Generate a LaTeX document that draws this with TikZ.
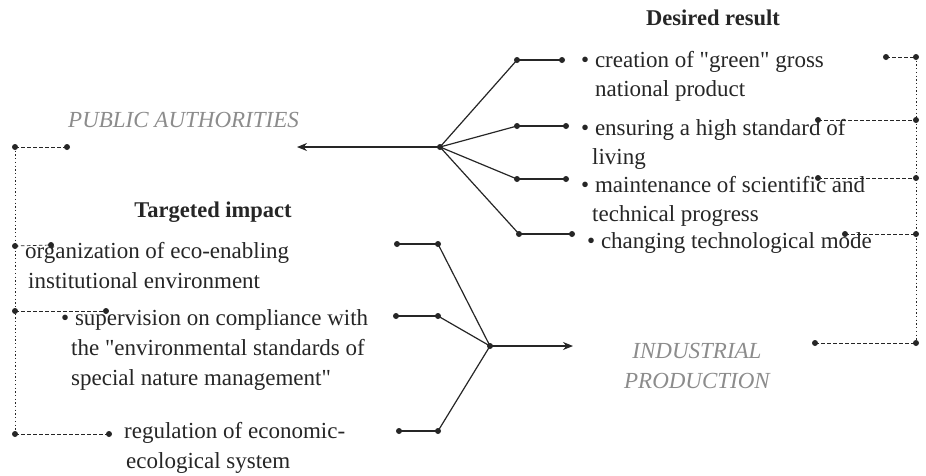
\documentclass[tikz,border=0pt]{standalone}
\usepackage{fontspec}
\setmainfont{Liberation Serif}[Ligatures=TeXOff]
\usetikzlibrary{arrows.meta}
\definecolor{ink}{HTML}{262626}
\definecolor{soft}{HTML}{8C8C8C}
\begin{document}
\begin{tikzpicture}[x=1pt,y=-1pt,
  dotn/.style={circle,fill=ink,inner sep=0pt,minimum size=6pt},
  link/.style={draw=ink,line width=1.2pt},
  stub/.style={draw=ink,line width=1.8pt},
  dashlink/.style={draw=ink,line width=0.7pt,dash pattern=on 3.5pt off 2.5pt},
  dotlink/.style={draw=ink,line width=1pt,dash pattern=on 1.3pt off 2.4pt},
  body/.style={font=\fontsize{23}{29}\selectfont,text=ink,align=left,inner sep=0pt,anchor=base west},
  lbody/.style={body,font=\fontsize{23}{30}\selectfont},
  head/.style={font=\fontsize{22.5}{27}\selectfont\bfseries,text=ink,inner sep=0pt,anchor=base},
  actor/.style={font=\fontsize{23}{30}\selectfont\itshape,text=soft,align=center,inner sep=0pt,anchor=base},
  tip/.style={-{Stealth[length=10pt,width=8pt]}}
]
\fill[white] (0,0) rectangle (926,475);
\useasboundingbox (0,0) rectangle (926,475);

% headings and actors
\node[head] (dr) at (713,25) {Desired result};
\node[head] (ti) at (213,217) {Targeted impact};
\node[actor,anchor=base west] (pa) at (68,127) {PUBLIC AUTHORITIES};
\node[actor] (ip) at (697,388) {INDUSTRIAL\\PRODUCTION};

% right fan
\node[dotn] (rh) at (440,147) {};
\node[dotn] (ra1) at (517,60) {};  \node[dotn] (rb1) at (562,60) {};
\node[dotn] (ra2) at (517,126) {}; \node[dotn] (rb2) at (566,126) {};
\node[dotn] (ra3) at (517,179) {}; \node[dotn] (rb3) at (566,179) {};
\node[dotn] (ra4) at (519,234) {}; \node[dotn] (rb4) at (572,234) {};
\coordinate (pa-tip) at (297,147);
\draw[link,tip] (rh.center) -- (pa-tip);
\foreach \i in {1,2,3,4}{
  \draw[link] (rh.center) -- (ra\i.center);
  \draw[stub] (ra\i.center) -- (rb\i.center);
}

% left fan
\node[dotn] (lh) at (490,346) {};
\node[dotn] (la1) at (438,244) {}; \node[dotn] (lb1) at (397,244) {};
\node[dotn] (la2) at (438,316) {}; \node[dotn] (lb2) at (396,316) {};
\node[dotn] (la3) at (438,431) {}; \node[dotn] (lb3) at (399,431) {};
\coordinate (ip-tip) at (573,346);
\draw[link,tip] (lh.center) -- (ip-tip);
\foreach \i in {1,2,3}{
  \draw[link] (lh.center) -- (la\i.center);
  \draw[stub] (la\i.center) -- (lb\i.center);
}

% right bracket
\node[dotn] (rs1) at (886,57) {};  \node[dotn] (rt1) at (916,57) {};
\node[dotn] (rs2) at (818,120) {}; \node[dotn] (rt2) at (916,120) {};
\node[dotn] (rs3) at (818,178) {}; \node[dotn] (rt3) at (916,178) {};
\node[dotn] (rs4) at (845,234) {}; \node[dotn] (rt4) at (916,234) {};
\node[dotn] (rs5) at (815,343) {}; \node[dotn] (rt5) at (916,343) {};
\draw[dotlink] (rt1.center) -- (rt5.center);
\foreach \i in {1,2,3,4,5}{ \draw[dashlink] (rs\i.center) -- (rt\i.center); }

% left bracket
\node[dotn] (lt1) at (15,147) {}; \node[dotn] (ls1) at (67,147) {};
\node[dotn] (lt2) at (15,246) {}; \node[dotn] (ls2) at (51,245) {};
\node[dotn] (lt3) at (15,311) {}; \node[dotn] (ls3) at (106,311) {};
\node[dotn] (lt4) at (15,434) {}; \node[dotn] (ls4) at (109,434) {};
\draw[dotlink] (lt1.center) -- (lt4.center);
\foreach \i in {1,2,3,4}{ \draw[dashlink] (lt\i.center) -- (ls\i.center); }

% desired result items (base anchor = last line)
\node[body] (cr) at (581,96) {•\ creation of "green" gross\\\hspace*{14pt}national product};
\node[body] (en) at (581,164) {•\ ensuring a high standard of\\\hspace*{11pt}living};
\node[body] (mt) at (581,221) {•\ maintenance of scientific and\\\hspace*{11pt}technical progress};
\node[body] (cg) at (587,248) {•\ changing technological mode};

% targeted impact items (base anchor = last line)
\node[lbody] (og) at (25,288) {organization of eco-enabling\\\hspace*{3pt}institutional environment};
\node[lbody] (sv) at (61,385) {•\ supervision on compliance with\\\hspace*{10pt}the "environmental standards of\\\hspace*{10pt}special nature management"};
\node[lbody] (rg) at (124,468) {regulation of economic-\\\hspace*{2pt}ecological system};
\end{tikzpicture}
\end{document}
